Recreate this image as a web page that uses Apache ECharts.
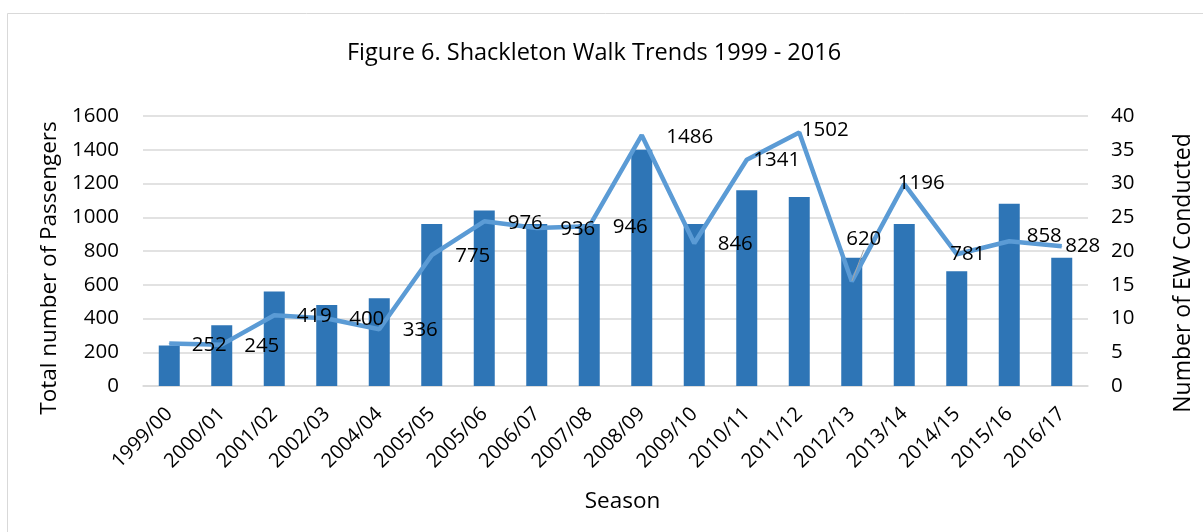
<!DOCTYPE html>
<html>
<head>
<meta charset="utf-8">
<script src="https://cdn.jsdelivr.net/npm/echarts@6/dist/echarts.min.js"></script>
<style>
html,body{margin:0;padding:0;background:#fff;}
#chart{width:1203px;height:532px;}
</style>
</head>
<body>
<div id="chart"></div>
<script>
// ---- data ----
const seasons = ['1999/00','2000/01','2001/02','2002/03','2004/04','2005/05','2005/06','2006/07','2007/08','2008/09','2009/10','2010/11','2011/12','2012/13','2013/14','2014/15','2015/16','2016/17'];
const passengers = [252,245,419,400,336,775,976,936,946,1486,846,1341,1502,620,1196,781,858,828];
const ewConducted = [6,9,14,12,13,24,26,24,24,35,24,29,28,19,24,17,27,19];
const leftTicks = { min: 0, max: 1600, interval: 200 };
const rightTicks = { min: 0, max: 40, interval: 5 };

// ---- label nudges (style: where each passenger label sits relative to its point) ----
const labelNudge = [[40,2],[40,1],[40,1],[40,1],[41,1],[41,1],[41,2],[41,1],[41,1],[48,2],[41,1],[30,0],[26,-2],[12,-42],[17,-1],[11,0],[35,-5],[21,0]];
const leaderLineAt = 13; // label with a leader line back to its point

const FONT = 'Open Sans';
const TXT = '#000';
const chart = echarts.init(document.getElementById('chart'), null, {renderer:'canvas'});
chart.setOption({
  backgroundColor: '#fff',
  animation: false,
  graphic: [{
    type: 'rect', silent: true,
    shape: { x: 7.5, y: 13.5, width: 1400, height: 700 },
    style: { fill: 'none', stroke: '#d9d9d9', lineWidth: 1 }
  }],
  title: {
    text: 'Figure 6. Shackleton Walk Trends 1999 - 2016',
    left: 589, top: 36, textAlign: 'center',
    textStyle: { fontFamily: FONT, fontSize: 23.5, fontWeight: 'normal', color: TXT }
  },
  grid: { left: 143, right: 98, top: 116, bottom: 146, containLabel: false },
  xAxis: {
    type: 'category', data: seasons,
    name: 'Season', nameLocation: 'middle', nameGap: 104,
    nameTextStyle: { fontFamily: FONT, fontSize: 22.5, color: TXT, padding: [0, 0, 0, 14] },
    axisLine: { show: true, lineStyle: { color: '#d9d9d9', width: 1.5 } },
    axisTick: { show: false },
    axisLabel: { rotate: 45, interval: 0, margin: 25, fontFamily: FONT, fontSize: 20, color: TXT }
  },
  yAxis: [{
    type: 'value', position: 'left', min: leftTicks.min, max: leftTicks.max, interval: leftTicks.interval,
    name: 'Total number of Passengers', nameLocation: 'middle', nameRotate: 90, nameGap: 80,
    nameTextStyle: { fontFamily: FONT, fontSize: 22.5, color: TXT, padding: [0, 34, 0, 0] },
    axisLine: { show: false }, axisTick: { show: false },
    axisLabel: { margin: 24, fontFamily: FONT, fontSize: 20.5, color: TXT, formatter: v => String(v) },
    splitLine: { show: true, lineStyle: { color: '#d9d9d9', width: 1.5 } }
  }, {
    type: 'value', position: 'right', min: rightTicks.min, max: rightTicks.max, interval: rightTicks.interval,
    name: 'Number of EW Conducted', nameLocation: 'middle', nameRotate: 90, nameGap: 84,
    nameTextStyle: { fontFamily: FONT, fontSize: 23, color: TXT, padding: [0, 44, 0, 0] },
    axisLine: { show: false }, axisTick: { show: false },
    axisLabel: { margin: 23, fontFamily: FONT, fontSize: 20.5, color: TXT, formatter: v => String(v) },
    splitLine: { show: false }
  }],
  series: [{
    name: 'Number of EW Conducted', type: 'bar', yAxisIndex: 1,
    data: ewConducted, barWidth: 21,
    itemStyle: { color: '#2E75B6' }
  }, {
    name: 'Total number of Passengers', type: 'line', yAxisIndex: 0,
    data: passengers.map((v, i) => ({
      value: v,
      labelLine: { show: i === leaderLineAt }
    })),
    symbol: 'circle', symbolSize: 1, showSymbol: true,
    itemStyle: { color: '#5B9BD5' },
    lineStyle: { color: '#5B9BD5', width: 4.5 },
    label: { show: true, position: 'inside', fontFamily: FONT, fontSize: 20.5, color: TXT },
    labelLine: { show: false, lineStyle: { color: '#a6a6a6', width: 1 } },
    labelLayout: function (p) {
      const n = labelNudge[p.dataIndex] || [0, 0];
      return { dx: n[0], dy: n[1] };
    }
  }]
});
</script>
</body>
</html>
